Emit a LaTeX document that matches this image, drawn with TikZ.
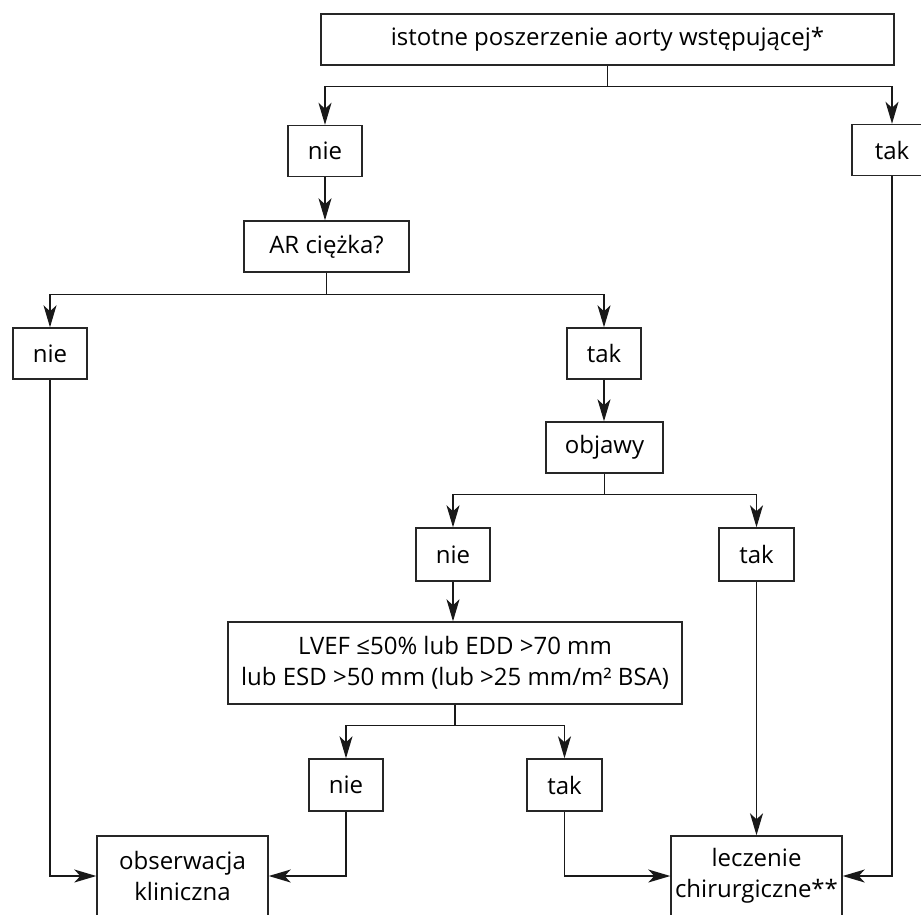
\documentclass[tikz,border=0pt]{standalone}
\usepackage{fontspec}
\setmainfont{Open Sans}
\usetikzlibrary{arrows.meta}

\begin{document}
\begin{tikzpicture}[x=1pt,y=-1pt,
  box/.style={draw=black!85, line width=1.4pt, minimum height=51pt, inner sep=0pt,
    align=center, font=\fontsize{24}{31}\selectfont},
  link/.style={line width=1.4pt, draw=black!90},
  conn/.style={link, -{Stealth[length=22pt,width=13pt,inset=6pt]}}]
\useasboundingbox (0,0) rectangle (921,914);
\clip (0,0) rectangle (921,914);

% decision boxes
\node[box, minimum width=573pt] (top) at (607.5,39.5) {istotne poszerzenie aorty wstępującej*};
\node[box, minimum width=74pt] (nieA) at (325,151) {nie};
\node[box, minimum width=80pt] (takA) at (892,150) {tak};
\node[box, minimum width=165pt] (ar) at (326.5,246.5) {AR ciężka?};
\node[box, minimum width=74pt] (nieB) at (50,353.5) {nie};
\node[box, minimum width=74pt] (takB) at (604,353.5) {tak};
\node[box, minimum width=117pt] (obj) at (604.5,447.5) {objawy};
\node[box, minimum width=74pt, minimum height=53pt] (nieC) at (453,554.5) {nie};
\node[box, minimum width=75pt, minimum height=53pt] (takC) at (756.5,554.5) {tak};
\node[box, minimum width=454pt, minimum height=82pt] (lvef) at (455,663)
  {LVEF ≤50\% lub EDD >70 mm\\lub ESD >50 mm (lub >25 mm/m² BSA)};
\node[box, minimum width=74pt, minimum height=52pt] (nieD) at (346,785) {nie};
\node[box, minimum width=75pt, minimum height=52pt] (takD) at (564.5,785) {tak};

% outcome boxes
\node[box, minimum width=171pt, minimum height=80pt] (obs) at (182.5,876) {obserwacja\\kliniczna};
\node[box, minimum width=171pt, minimum height=80pt] (lecz) at (756.5,876) {leczenie\\chirurgiczne**};

% branching connectors
\draw[link] (top.south) -- ++(0,21) coordinate (j1);
\draw[conn] (j1) -| (nieA.north);
\draw[conn] (j1) -| (takA.north);
\draw[conn] (nieA.south) -- (nieA.south |- ar.north);

\draw[link] (ar.south) -- ++(0,22) coordinate (j2);
\draw[conn] (j2) -| (nieB.north);
\draw[conn] (j2) -| (takB.north);
\draw[conn] (takB.south) -- (takB.south |- obj.north);

\draw[link] (obj.south) -- ++(0,21) coordinate (j3);
\draw[conn] (j3) -| (nieC.north);
\draw[conn] (j3) -| (takC.north);
\draw[conn] (nieC.south) -- (nieC.south |- lvef.north);

\draw[link] (lvef.south) -- ++(0,21) coordinate (j4);
\draw[conn] (j4) -| (nieD.north);
\draw[conn] (j4) -| (takD.north);

% paths to the outcomes
\draw[conn] (nieB.south) |- (obs.west);
\draw[conn] (nieD.south) |- (obs.east);
\draw[conn] (takD.south) |- (lecz.west);
\draw[conn] (takC.south) -- (takC.south |- lecz.north);
\draw[conn] (takA.south) |- (lecz.east);
\end{tikzpicture}
\end{document}
